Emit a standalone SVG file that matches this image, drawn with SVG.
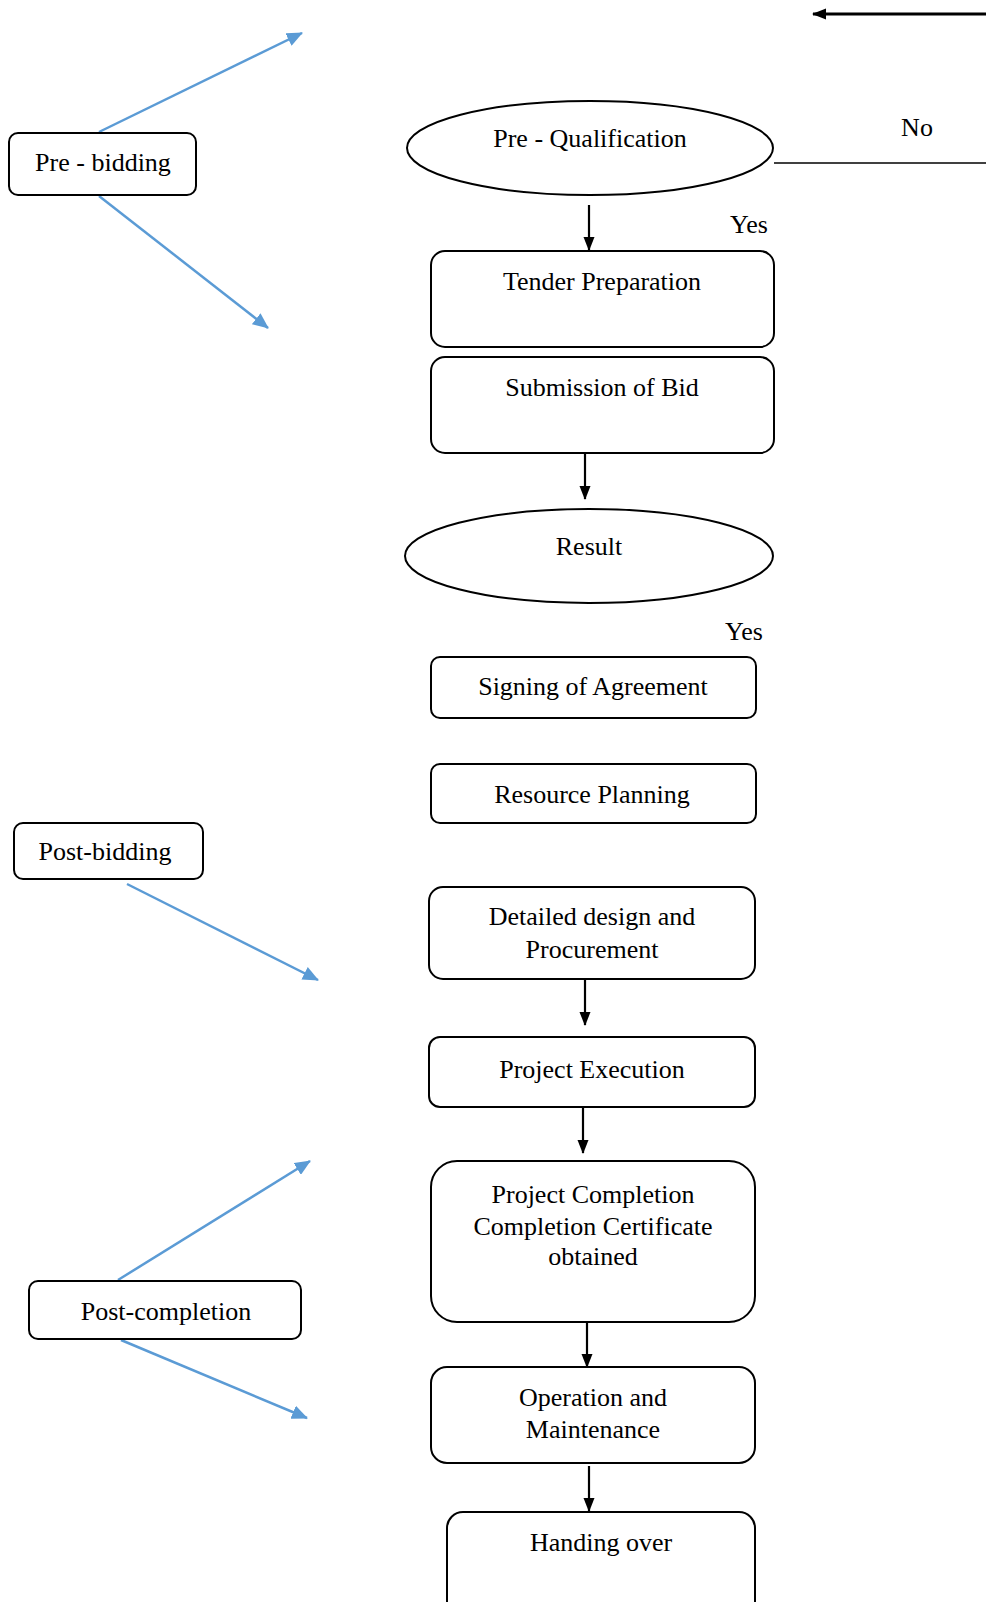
<svg xmlns="http://www.w3.org/2000/svg" width="986" height="1602" viewBox="0 0 986 1602">
<defs>
<style>
.box{fill:#fff;stroke:#000;stroke-width:2}
.t{font-family:"Liberation Serif","Times New Roman",serif;font-size:26px;fill:#000;text-anchor:middle}
.k{stroke:#000;stroke-width:2.2;fill:none}
.b{stroke:#5B9BD5;stroke-width:2.5;fill:none}
</style>
<marker id="ak" markerWidth="14" markerHeight="14" refX="13" refY="7" orient="auto" markerUnits="userSpaceOnUse">
<path d="M0,1.5 L14,7 L0,12.5 Z" fill="#000"/>
</marker>
<marker id="ab" markerWidth="16" markerHeight="14" refX="15" refY="7" orient="auto" markerUnits="userSpaceOnUse">
<path d="M0,0 L16,7 L0,14 Z" fill="#5B9BD5"/>
</marker>
</defs>
<rect width="986" height="1602" fill="#fff"/>

<g id="connectors">
<line class="k" x1="986" y1="14" x2="813" y2="14" style="stroke-width:3" marker-end="url(#ak)"/>
<line class="k" x1="774" y1="163" x2="986" y2="163" style="stroke-width:1.5"/>
<line class="k" x1="589" y1="205" x2="589" y2="250" marker-end="url(#ak)"/>
<line class="k" x1="585" y1="453" x2="585" y2="499" marker-end="url(#ak)"/>
<line class="k" x1="585" y1="979" x2="585" y2="1025" marker-end="url(#ak)"/>
<line class="k" x1="583" y1="1107" x2="583" y2="1153" marker-end="url(#ak)"/>
<line class="k" x1="587" y1="1322" x2="587" y2="1367" marker-end="url(#ak)"/>
<line class="k" x1="589" y1="1466" x2="589" y2="1511" marker-end="url(#ak)"/>
<line class="b" x1="99" y1="132" x2="302" y2="33" marker-end="url(#ab)"/>
<line class="b" x1="99" y1="196" x2="268" y2="328" marker-end="url(#ab)"/>
<line class="b" x1="127" y1="884" x2="318" y2="980" marker-end="url(#ab)"/>
<line class="b" x1="118" y1="1280" x2="310" y2="1161" marker-end="url(#ab)"/>
<line class="b" x1="121" y1="1340" x2="307" y2="1418" marker-end="url(#ab)"/>
<text class="t" x="917" y="136">No</text>
<text class="t" x="749" y="233">Yes</text>
<text class="t" x="744" y="640">Yes</text>
</g>

<g id="pre-bidding">
<rect class="box" x="9" y="133" width="187" height="62" rx="9"/>
<text class="t" x="103" y="171">Pre - bidding</text>
</g>
<g id="pre-qualification">
<ellipse class="box" cx="590" cy="148" rx="183" ry="47"/>
<text class="t" x="590" y="147">Pre - Qualification</text>
</g>
<g id="tender-preparation">
<rect class="box" x="431" y="251" width="343" height="96" rx="14"/>
<text class="t" x="602" y="290">Tender Preparation</text>
</g>
<g id="submission-of-bid">
<rect class="box" x="431" y="357" width="343" height="96" rx="14"/>
<text class="t" x="602" y="396">Submission of Bid</text>
</g>
<g id="result">
<ellipse class="box" cx="589" cy="556" rx="184" ry="47"/>
<text class="t" x="589" y="555">Result</text>
</g>
<g id="signing-of-agreement">
<rect class="box" x="431" y="657" width="325" height="61" rx="9"/>
<text class="t" x="593" y="695">Signing of Agreement</text>
</g>
<g id="resource-planning">
<rect class="box" x="431" y="764" width="325" height="59" rx="9"/>
<text class="t" x="592" y="803">Resource Planning</text>
</g>
<g id="post-bidding">
<rect class="box" x="14" y="823" width="189" height="56" rx="9"/>
<text class="t" x="105" y="860">Post-bidding</text>
</g>
<g id="detailed-design">
<rect class="box" x="429" y="887" width="326" height="92" rx="14"/>
<text class="t" x="592" y="925">Detailed design and</text>
<text class="t" x="592" y="958">Procurement</text>
</g>
<g id="project-execution">
<rect class="box" x="429" y="1037" width="326" height="70" rx="11"/>
<text class="t" x="592" y="1078">Project Execution</text>
</g>
<g id="project-completion">
<rect class="box" x="431" y="1161" width="324" height="161" rx="26"/>
<text class="t" x="593" y="1203">Project Completion</text>
<text class="t" x="593" y="1235">Completion Certificate</text>
<text class="t" x="593" y="1265">obtained</text>
</g>
<g id="post-completion">
<rect class="box" x="29" y="1281" width="272" height="58" rx="9"/>
<text class="t" x="166" y="1320">Post-completion</text>
</g>
<g id="operation-maintenance">
<rect class="box" x="431" y="1367" width="324" height="96" rx="16"/>
<text class="t" x="593" y="1406">Operation and</text>
<text class="t" x="593" y="1438">Maintenance</text>
</g>
<g id="handing-over">
<rect class="box" x="447" y="1512" width="308" height="110" rx="16"/>
<text class="t" x="601" y="1551">Handing over</text>
</g>
</svg>
